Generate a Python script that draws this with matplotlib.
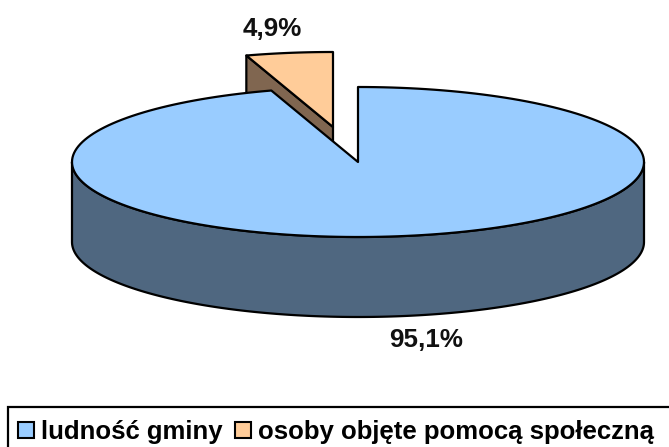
import numpy as np
import matplotlib
matplotlib.use('Agg')
import matplotlib.pyplot as plt
from matplotlib.patches import Patch, Rectangle

categories = ['ludność gminy', 'osoby objęte pomocą społeczną']
shares = [95.1, 4.9]
labels = ['95,1%', '4,9%']
top_colours = ['#99CCFF', '#FFCC99']
side_colours = ['#4F6780', '#806650']

# pie geometry in pixels
cx, cy = 358, 162
rx, ry = 286, 75
depth = 80
explode = (-25, -35)

plt.rcParams['font.family'] = ['Liberation Sans', 'DejaVu Sans']

fig = plt.figure(figsize=(6.69, 4.47), dpi=100)
ax = fig.add_axes([0, 0, 1, 1])
ax.set_xlim(0, 669)
ax.set_ylim(447, 0)
ax.axis('off')


def rim(start, stop, x0, y0):
    # angles are clockwise from twelve o'clock, in percent of the pie
    t = np.radians(np.linspace(start, stop, 200) * 3.6)
    return x0 + rx * np.sin(t), y0 - ry * np.cos(t)


# small slice first, the big one sits on top of its wall
sx, sy = cx + explode[0], cy + explode[1]
xs, ys = rim(shares[0], 100, sx, sy)
ax.fill([xs[0], xs[0], sx, sx], [ys[0], ys[0] + depth, sy + depth, sy],
        fc=side_colours[1], ec='black', lw=1.6, joinstyle='round')
ax.fill(np.r_[sx, xs], np.r_[sy, ys], fc=top_colours[1], ec='black', lw=1.6, joinstyle='round')

# wall of the big slice: front half of the rim
xw, yw = rim(25, 75, cx, cy)
ax.fill(np.r_[xw, xw[::-1]], np.r_[yw, yw[::-1] + depth],
        fc=side_colours[0], ec='black', lw=1.6, joinstyle='round')

xm, ym = rim(0, shares[0], cx, cy)
ax.fill(np.r_[cx, xm], np.r_[cy, ym], fc=top_colours[0], ec='black', lw=1.6, joinstyle='round')

ax.text(426, 340, labels[0], ha='center', va='center', fontsize=18.7, fontweight='bold', color='#111111')
ax.text(272, 29, labels[1], ha='center', va='center', fontsize=18.7, fontweight='bold', color='#111111')

# legend frame runs off the canvas on the right and at the bottom
ax.add_patch(Rectangle((8, 407), 700, 70, fc='white', ec='black', lw=1.6))
handles = [Patch(fc=c, ec='black', lw=1.5) for c in top_colours]
ax.legend(handles, categories, ncol=2, loc='upper left', bbox_to_anchor=(18, 420),
          bbox_transform=ax.transData, borderaxespad=0, frameon=False,
          prop={'size': 18.5, 'weight': 'bold'},
          handlelength=0.62, handleheight=0.62, handletextpad=0.28, columnspacing=0.48,
          borderpad=0)

fig.savefig('out.png', dpi=100)
